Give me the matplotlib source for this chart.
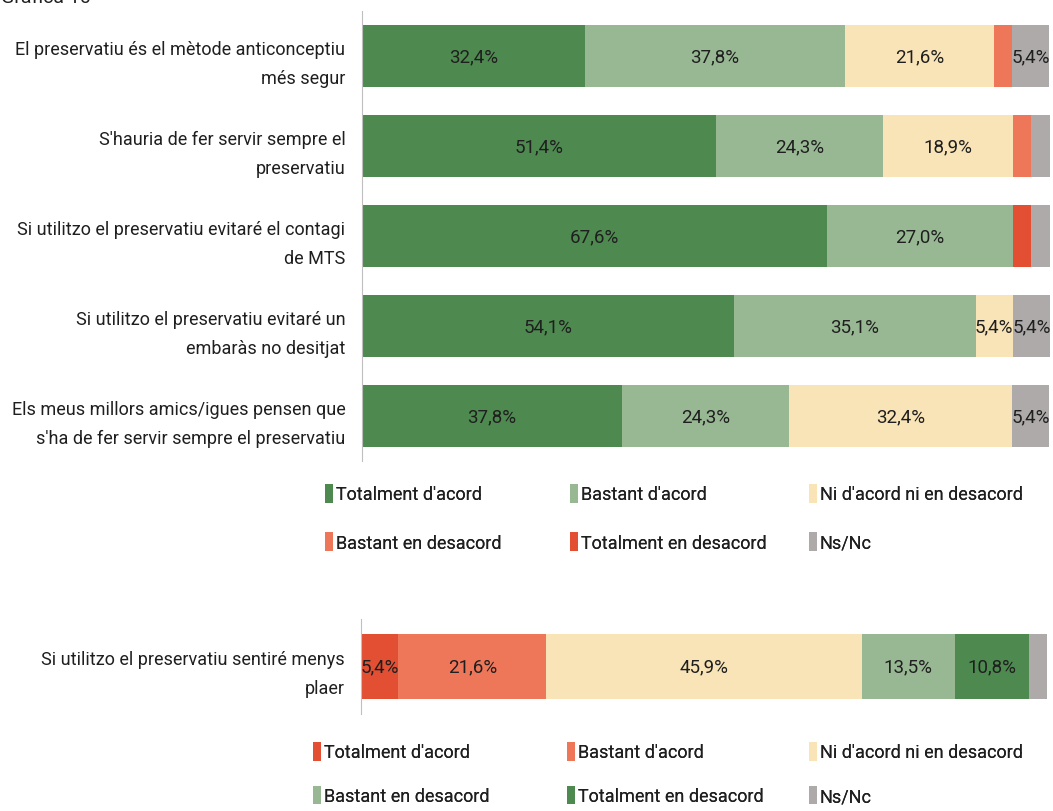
"""Stacked 100% bars: attitudes towards the condom (Gràfica 10)."""

import matplotlib

matplotlib.use("Agg")
import matplotlib.pyplot as plt
from matplotlib.patches import Patch

plt.rcParams["font.family"] = ["Roboto", "DejaVu Sans"]

TOP_CATEGORIES = [
    "El preservatiu és el mètode anticonceptiu\nmés segur",
    "S'hauria de fer servir sempre el\npreservatiu",
    "Si utilitzo el preservatiu evitaré el contagi\nde MTS",
    "Si utilitzo el preservatiu evitaré un\nembaràs no desitjat",
    "Els meus millors amics/igues pensen que\ns'ha de fer servir sempre el preservatiu",
]
TOP_SERIES = [
    "Totalment d'acord", "Bastant d'acord", "Ni d'acord ni en desacord",
    "Bastant en desacord", "Totalment en desacord", "Ns/Nc",
]
TOT_ACORD = [32.4, 51.4, 67.6, 54.1, 37.8]
BASTANT_ACORD = [37.8, 24.3, 27.0, 35.1, 24.3]
NI_NI = [21.6, 18.9, 0.0, 5.4, 32.4]
BASTANT_DESACORD = [2.7, 2.7, 0.0, 0.0, 0.0]
TOT_DESACORD = [0.0, 0.0, 2.7, 0.0, 0.0]
NS_NC = [5.4, 2.7, 2.7, 5.4, 5.4]

BOTTOM_CATEGORY = ["Si utilitzo el preservatiu sentiré menys\nplaer"]
BOTTOM_SERIES = [
    "Totalment d'acord", "Bastant d'acord", "Ni d'acord ni en desacord",
    "Bastant en desacord", "Totalment en desacord", "Ns/Nc",
]
BOTTOM_VALUES = [5.4, 21.6, 45.9, 13.5, 10.8, 2.7]

DARK_GREEN = "#4e8a50"
LIGHT_GREEN = "#98b893"
BEIGE = "#f9e4b7"
SALMON = "#ee775a"
RED = "#e24f32"
GREY = "#aeaaaa"
INK = "#1f1f1f"
SPINE = "#bfbfbf"

W, H = 1053, 812
FS = 13


def px(x, y):
    return x / W, 1 - y / H


def fmt(v):
    return f"{v:.1f}%".replace(".", ",")


def stacked(ax, categories, series_values, colors, bar_h):
    ypos = list(range(len(categories)))
    left = [0.0] * len(categories)
    for vals, col in zip(series_values, colors):
        ax.barh(ypos, vals, left=left, height=bar_h, color=col, linewidth=0)
        for y, l, v in zip(ypos, left, vals):
            if v >= 5:
                ax.text(l + v / 2, y, fmt(v), ha="center", va="center",
                        fontsize=FS + 0.5, color=INK)
        left = [a + b for a, b in zip(left, vals)]
    ax.set_xlim(0, 100)
    ax.set_ylim(len(categories) - 0.5, -0.5)
    ax.set_yticks(ypos)
    ax.set_yticklabels(categories, fontsize=FS, color=INK, ha="right",
                       multialignment="right", linespacing=1.75)
    ax.tick_params(axis="y", length=0, pad=12)
    ax.set_xticks([])
    for side in ("top", "right", "bottom"):
        ax.spines[side].set_visible(False)
    ax.spines["left"].set_color(SPINE)


def legend(fig, labels, colors, col_x, top_y, row_gap):
    # row-major layout: three columns of two entries each
    handles = [Patch(facecolor=c, edgecolor="none", label=l) for l, c in zip(labels, colors)]
    for col, x in enumerate(col_x):
        idx = [col, col + 3]
        leg = fig.legend([handles[i] for i in idx], [labels[i] for i in idx],
                         loc="upper left", bbox_to_anchor=px(x, top_y), ncol=1,
                         frameon=False, fontsize=FS, handlelength=0.45,
                         handleheight=1.2, handletextpad=0.15,
                         labelspacing=row_gap, borderpad=0, borderaxespad=0,
                         labelcolor=INK)
        fig.add_artist(leg)


fig = plt.figure(figsize=(W / 100, H / 100), dpi=100, facecolor="white")

fig.text(*px(1, 3), "Gràfica 10", fontsize=FS + 1, color=INK, va="baseline")

top_colors = [DARK_GREEN, LIGHT_GREEN, BEIGE, SALMON, RED, GREY]
x0, y0 = px(362, 462)
x1, y1 = px(1050, 12)
ax_top = fig.add_axes([x0, y0, x1 - x0, y1 - y0])
stacked(ax_top, TOP_CATEGORIES,
        [TOT_ACORD, BASTANT_ACORD, NI_NI, BASTANT_DESACORD, TOT_DESACORD, NS_NC],
        top_colors, 0.69)
legend(fig, TOP_SERIES, top_colors, [325, 570, 809], 485, 1.6)

bottom_colors = [RED, SALMON, BEIGE, LIGHT_GREEN, DARK_GREEN, GREY]
x0, y0 = px(361, 715)
x1, y1 = px(1048, 620)
ax_bot = fig.add_axes([x0, y0, x1 - x0, y1 - y0])
stacked(ax_bot, BOTTOM_CATEGORY, [[v] for v in BOTTOM_VALUES], bottom_colors, 0.68)
legend(fig, BOTTOM_SERIES, bottom_colors, [313, 567, 809], 743, 1.35)

fig.savefig("out.png", dpi=100, facecolor="white")
